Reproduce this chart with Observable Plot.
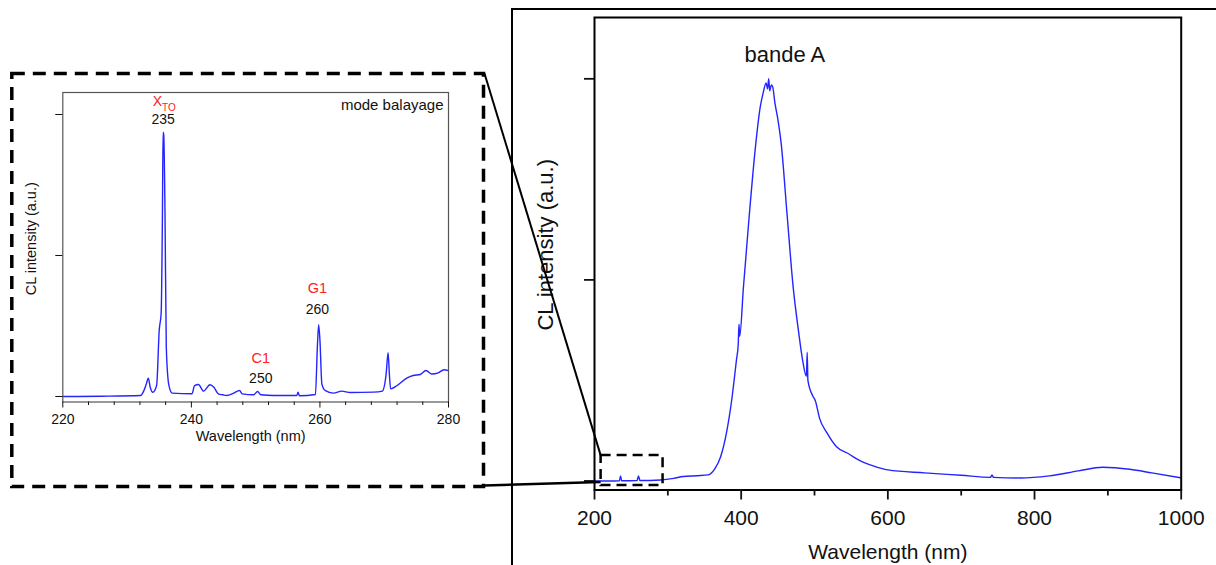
<!DOCTYPE html>
<html><head><meta charset="utf-8">
<script src="https://cdn.jsdelivr.net/npm/d3@7"></script>
<script src="https://cdn.jsdelivr.net/npm/@observablehq/plot@0.6"></script>
<style>
html,body{margin:0;padding:0;background:#fff;}
#wrap{position:relative;width:1216px;height:565px;overflow:hidden;font-family:"Liberation Sans",Arial,sans-serif;}
#wrap > *{position:absolute;left:0;top:0;}
</style></head><body><div id="wrap"></div>
<script>
// ---- main spectrum (200–1000 nm) ----
const mainWavelength = [200, 220, 234, 235.5, 237, 258, 260, 262, 290, 308, 321, 340, 355, 364, 372, 380, 387, 393.5, 396, 397, 398, 403, 411, 420, 426, 430, 434, 436, 437.5, 439, 441, 443, 446, 450, 454.5, 462.7, 471, 478, 483.8, 489, 490, 491, 498, 501, 507, 516.8, 530, 547, 560, 580, 600, 650, 700, 740, 742, 744, 780, 820, 860, 893, 930, 960, 1000];
const mainIntensity = [0, 0, 0.001, 0.025, 0.001, 0.002, 0.025, 0.002, 0.005, 0.013, 0.022, 0.026, 0.03, 0.06, 0.12, 0.24, 0.40, 0.60, 0.68, 0.78, 0.72, 0.96, 1.32, 1.68, 1.86, 1.93, 1.98, 1.95, 2.0, 1.94, 1.97, 1.96, 1.88, 1.80, 1.68, 1.32, 0.96, 0.75, 0.60, 0.52, 0.64, 0.50, 0.42, 0.40, 0.31, 0.24, 0.17, 0.134, 0.105, 0.075, 0.055, 0.04, 0.028, 0.018, 0.03, 0.018, 0.015, 0.025, 0.05, 0.068, 0.058, 0.04, 0.015];
const mainXTicks = [200, 400, 600, 800, 1000];
const mainXMinor = [300, 500, 700, 900];
const yTicks = [0, 1, 2];
const bandLabel = [{text: "bande A", x: 459.5, y: 2.12}];
const zoomBox = [{x1: 209, x2: 293.5, y1: -0.023, y2: 0.126}];

// ---- inset spectrum (220–280 nm, mode balayage) ----
const insetWavelength = [220, 226, 232.1, 232.6, 233.0, 233.3, 233.6, 234.0, 234.6, 235.0, 235.3, 235.5, 235.6, 235.7, 235.9, 236.1, 236.5, 237.0, 240.1, 240.5, 241.1, 241.9, 242.9, 243.5, 244.2, 244.9, 245.5, 246.6, 247.5, 247.9, 249.7, 250.3, 250.8, 252.8, 256.4, 256.6, 256.8, 259.3, 259.6, 259.8, 260.0, 260.3, 260.8, 262.1, 263.4, 264.7, 268.3, 269.7, 270.3, 270.6, 270.8, 271.0, 272.0, 273.5, 274.5, 275.6, 276.5, 277.4, 278.4, 279.3, 280];
const insetIntensity = [0, 0.002, 0.007, 0.04, 0.09, 0.13, 0.066, 0.03, 0.08, 0.47, 0.59, 1.30, 1.875, 1.86, 1.30, 0.35, 0.08, 0.024, 0.019, 0.078, 0.085, 0.038, 0.083, 0.066, 0.019, 0.012, 0.007, 0.024, 0.043, 0.019, 0.012, 0.035, 0.012, 0.007, 0.007, 0.03, 0.005, 0.014, 0.35, 0.51, 0.40, 0.09, 0.043, 0.024, 0.038, 0.028, 0.031, 0.038, 0.16, 0.31, 0.16, 0.054, 0.078, 0.13, 0.149, 0.156, 0.184, 0.16, 0.168, 0.19, 0.184];
const insetXTicks = [220, 240, 260, 280];
const insetXMinor = [224, 228, 232, 236, 244, 248, 252, 256, 264, 268, 272, 276];
const peakNames = ["C1", "G1"];
const peakNameX = [250.8, 259.6];
const peakNameY = [0.267, 0.764];
const peakNumbers = ["235", "250", "260"];
const peakNumberX = [235.6, 250.8, 259.6];
const peakNumberY = [1.962, 0.125, 0.615];
const xtoLabel = [{main: "X", sub: "TO", x: 235.6, y: 2.089, ySub: 2.045}];

const font = "Liberation Sans, Arial, sans-serif";
const red = "#ff2020";
const blue = "#2424ff";

const mainData = mainWavelength.map((w, i) => ({w, v: mainIntensity[i]}));
const insetData = insetWavelength.map((w, i) => ({w, v: insetIntensity[i]}));
const names = peakNames.map((t, i) => ({t, x: peakNameX[i], y: peakNameY[i]}));
const nums = peakNumbers.map((t, i) => ({t, x: peakNumberX[i], y: peakNumberY[i]}));

const main = Plot.plot({
  width: 1216, height: 565,
  marginLeft: 594, marginRight: 35.3, marginTop: 17, marginBottom: 75.5,
  style: {background: "transparent", fontFamily: font, color: "#111", overflow: "visible"},
  x: {domain: [200, 1000]},
  y: {domain: [-0.045, 2.305]},
  marks: [
    Plot.line(mainData, {x: "w", y: "v", stroke: blue, strokeWidth: 1.4, curve: "monotone-x"}),
    Plot.rect(zoomBox, {x1: "x1", x2: "x2", y1: "y1", y2: "y2", fill: "none", stroke: "#000", strokeWidth: 2.5, strokeDasharray: "10,6"}),
    Plot.frame({stroke: "#000", strokeWidth: 2}),
    Plot.axisX(mainXTicks, {tickSize: 10, tickPadding: 10, fontSize: 21, strokeWidth: 1.8, label: null, tickFormat: d => String(d)}),
    Plot.axisX(mainXMinor, {tickSize: 6, tickFormat: () => "", strokeWidth: 1.8, label: null}),
    Plot.axisY(yTicks, {tickSize: 10, tickFormat: () => "", strokeWidth: 1.8, label: null}),
    Plot.text(["Wavelength (nm)"], {frameAnchor: "bottom", dy: 62, fontSize: 21, textAnchor: "middle", lineAnchor: "middle"}),
    Plot.text(["CL intensity (a.u.)"], {frameAnchor: "left", dx: -49, dy: -9, rotate: -90, fontSize: 22, textAnchor: "middle", lineAnchor: "middle"}),
    Plot.text(bandLabel, {x: "x", y: "y", text: "text", fontSize: 22, fill: "#111"})
  ]
});

const inset = Plot.plot({
  width: 500, height: 500,
  marginLeft: 62.3, marginRight: 52, marginTop: 92, marginBottom: 98.5,
  style: {background: "transparent", fontFamily: font, color: "#111", overflow: "visible"},
  x: {domain: [220, 280]},
  y: {domain: [-0.039, 2.156]},
  marks: [
    Plot.line(insetData, {x: "w", y: "v", stroke: blue, strokeWidth: 1.4, curve: "monotone-x"}),
    Plot.frame({stroke: "#555", strokeWidth: 1.2}),
    Plot.axisX(insetXTicks, {tickSize: 6, tickPadding: 6, fontSize: 14, label: null, tickFormat: d => String(d)}),
    Plot.axisX(insetXMinor, {tickSize: 3.5, tickFormat: () => "", label: null}),
    Plot.axisY(yTicks, {tickSize: 7, tickFormat: () => "", label: null}),
    Plot.text(["Wavelength (nm)"], {frameAnchor: "bottom", dx: -5, dy: 34.5, fontSize: 14.5, textAnchor: "middle", lineAnchor: "middle"}),
    Plot.text(["CL intensity (a.u.)"], {frameAnchor: "left", dx: -31, dy: -8.5, rotate: -90, fontSize: 14.5, textAnchor: "middle", lineAnchor: "middle"}),
    Plot.text(["mode balayage"], {frameAnchor: "top-right", dx: -5, dy: 13, fontSize: 15, textAnchor: "end", lineAnchor: "middle"}),
    Plot.text(names, {x: "x", y: "y", text: "t", fill: red, fontSize: 14.5}),
    Plot.text(nums, {x: "x", y: "y", text: "t", fill: "#111", fontSize: 14}),
    Plot.text(xtoLabel, {x: "x", y: "y", text: "main", fill: red, fontSize: 14, dx: -5.7}),
    Plot.text(xtoLabel, {x: "x", y: "ySub", text: "sub", fill: red, fontSize: 10, dx: -1, textAnchor: "start"})
  ]
});

const wrap = document.getElementById("wrap");
wrap.appendChild(main);
wrap.appendChild(inset);

// ---- decorations: outer frame, dashed inset box, connectors ----
const mx = main.scale("x"), my = main.scale("y");
const ix = inset.scale("x"), iy = inset.scale("y");
const boxL = mx.apply(zoomBox[0].x1), boxT = my.apply(zoomBox[0].y2), boxB = my.apply(zoomBox[0].y1);
const insL = ix.apply(220) - 50.5, insR = ix.apply(280) + 35.5;
const insT = iy.apply(2.156) - 18.5, insB = iy.apply(-0.039) + 85;

const svg = d3.select(wrap).append("svg")
  .attr("width", 1216).attr("height", 565)
  .style("pointer-events", "none");
svg.append("path").attr("d", `M512,565V9H1216`).attr("fill", "none").attr("stroke", "#000").attr("stroke-width", 2);
svg.append("rect").attr("x", insL).attr("y", insT).attr("width", insR - insL).attr("height", insB - insT)
  .attr("fill", "none").attr("stroke", "#000").attr("stroke-width", 3.5).attr("stroke-dasharray", "13,8");
svg.append("line").attr("x1", insR + 1).attr("y1", insT).attr("x2", boxL).attr("y2", boxT)
  .attr("stroke", "#000").attr("stroke-width", 2);
svg.append("line").attr("x1", insR + 1).attr("y1", insB - 1).attr("x2", boxL).attr("y2", boxB - 3)
  .attr("stroke", "#000").attr("stroke-width", 2.5);
</script></body></html>
